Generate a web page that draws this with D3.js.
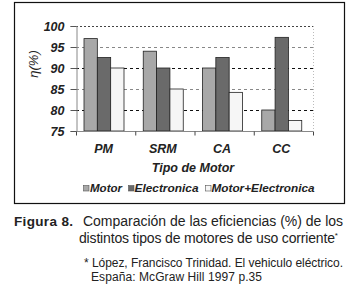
<!DOCTYPE html>
<html>
<head>
<meta charset="utf-8">
<script src="https://cdn.jsdelivr.net/npm/d3@7"></script>
<style>
  body { margin: 0; background: #fff; }
  svg { display: block; font-family: "Liberation Sans", Arial, sans-serif; }
</style>
</head>
<body>
<div id="container"></div>
<script>
// data
let categories = ["PM", "SRM", "CA", "CC"];
let seriesNames = ["Motor", "Electronica", "Motor+Electronica"];
let motor = [97, 94, 90, 80];
let electronica = [92.5, 90, 92.5, 97.3];
let motorElectronica = [90, 85, 84.2, 77.5];
let yTicks = [75, 80, 85, 90, 95, 100];

let colors = ["#a8a8a8", "#6a6a6a", "#f6f6f6"];

let w = 352;
let h = 293;

let viz = d3.select("#container")
  .append("svg")
    .attr("width", w)
    .attr("height", h)
;

// frame around the chart
viz.append("rect")
  .attr("x", 14.5).attr("y", 2.5)
  .attr("width", 330).attr("height", 201)
  .attr("fill", "none")
  .attr("stroke", "#111")
  .attr("stroke-width", 1.2);

// plot area edges (window.top is taken, so prefixed names)
let plotLeft = 76, plotRight = 313, plotTop = 26, plotBottom = 131;

let xScale = d3.scaleBand()
  .domain(categories)
  .range([plotLeft, plotRight]);

let inner = d3.scaleBand()
  .domain(seriesNames)
  .range([8, 48])
  .padding(0);

let yScale = d3.scaleLinear().domain([75, 100]).range([plotBottom, plotTop]);

// grid lines
let grid = viz.append("g").classed("grid", true);
grid.selectAll("line")
  .data(yTicks.filter(d => d > 75))
  .enter()
  .append("line")
    .attr("x1", plotLeft).attr("x2", plotRight)
    .attr("y1", d => yScale(d) + 0.5).attr("y2", d => yScale(d) + 0.5)
    .attr("stroke", d => (d == 90 || d == 80) ? "#111" : (d == 100 ? "#444" : "#888"))
    .attr("stroke-width", 1)
    .attr("stroke-dasharray", d => d == 100 ? "2,2" : "3,3");

// right edge, dotted
viz.append("line")
  .attr("x1", plotRight + 0.5).attr("x2", plotRight + 0.5)
  .attr("y1", plotTop).attr("y2", plotBottom)
  .attr("stroke", "#bbb")
  .attr("stroke-dasharray", "1,2");

// bars
let series = [motor, electronica, motorElectronica];
let barData = [];
categories.forEach(function(c, i){
  seriesNames.forEach(function(s, j){
    barData.push({cat: c, s: s, j: j, value: series[j][i]});
  });
});

viz.append("g").classed("bars", true)
  .selectAll("rect")
  .data(barData)
  .enter()
  .append("rect")
    .attr("x", d => xScale(d.cat) + inner(d.s))
    .attr("width", inner.bandwidth())
    .attr("y", d => yScale(d.value))
    .attr("height", d => plotBottom - yScale(d.value))
    .attr("fill", d => colors[d.j])
    .attr("stroke", "#222")
    .attr("stroke-width", 0.8);

// y axis
let yAxis = d3.axisLeft(yScale).tickValues(yTicks).tickSize(6).tickPadding(6);
let yAxisGroup = viz.append("g")
  .attr("transform", "translate(" + (plotLeft + 0.5) + ",0)")
  .call(yAxis);
yAxisGroup.select(".domain").attr("stroke", "#888");
yAxisGroup.selectAll("line").attr("stroke", "#555");
yAxisGroup.selectAll("text")
  .attr("font-size", 12.5)
  .attr("font-weight", "bold")
  .attr("font-style", "italic")
  .attr("fill", "#222")
  .attr("font-family", "Liberation Sans, Arial, sans-serif");

// x axis: ticks at the category edges
let xAxisGroup = viz.append("g")
  .attr("transform", "translate(0," + (plotBottom + 0.5) + ")");
xAxisGroup.append("line")
  .attr("x1", plotLeft).attr("x2", plotRight)
  .attr("stroke", "#888");
xAxisGroup.selectAll(".edge")
  .data(categories.concat(["end"]))
  .enter()
  .append("line")
    .attr("x1", (d, i) => plotLeft + i * xScale.bandwidth() + 0.5)
    .attr("x2", (d, i) => plotLeft + i * xScale.bandwidth() + 0.5)
    .attr("y1", 0).attr("y2", 4)
    .attr("stroke", "#444");

xAxisGroup.selectAll(".cat")
  .data(categories)
  .enter()
  .append("text")
    .attr("x", d => xScale(d) + xScale.bandwidth() / 2 - 2)
    .attr("y", 21)
    .attr("text-anchor", "middle")
    .attr("font-size", 12.5)
    .attr("font-weight", "bold")
    .attr("font-style", "italic")
    .attr("fill", "#222")
    .text(d => d);

// axis titles
viz.append("text")
  .attr("x", 193).attr("y", 172)
  .attr("text-anchor", "middle")
  .attr("font-size", 12.5)
  .attr("font-weight", "bold")
  .attr("font-style", "italic")
  .attr("fill", "#222")
  .text("Tipo de Motor");

viz.append("text")
  .attr("transform", "translate(38,64) rotate(-90)")
  .attr("text-anchor", "middle")
  .attr("font-size", 13)
  .attr("font-style", "italic")
  .attr("fill", "#222")
  .text("η(%)");

// legend
let legendX = [83, 128, 205];
let legendLen = [32, 64, 103];
let legend = viz.append("g").classed("legend", true);
let items = legend.selectAll("g")
  .data(seriesNames)
  .enter()
  .append("g")
    .attr("transform", (d, i) => "translate(" + legendX[i] + ",184)");
items.append("rect")
  .attr("x", 0.5).attr("y", 1.5)
  .attr("width", 5.5).attr("height", 5.5)
  .attr("fill", (d, i) => colors[i])
  .attr("stroke", "#555")
  .attr("stroke-width", 0.6);
items.append("text")
  .attr("x", (d, i) => i == 0 ? 7 : 6.5)
  .attr("y", 7.5)
  .attr("font-size", 11)
  .attr("font-weight", "bold")
  .attr("font-style", "italic")
  .attr("fill", "#222")
  .attr("textLength", (d, i) => legendLen[i])
  .attr("lengthAdjust", "spacingAndGlyphs")
  .text(d => d);

// caption below the chart
let caption = viz.append("g").attr("fill", "#222");
caption.append("text")
  .attr("x", 14).attr("y", 226)
  .attr("font-size", 13.5)
  .attr("font-weight", "bold")
  .attr("textLength", 59)
  .text("Figura 8.");
caption.append("text")
  .attr("x", 83).attr("y", 226)
  .attr("font-size", 14)
  .attr("textLength", 260)
  .text("Comparación de las eficiencias (%) de los");
let line2 = caption.append("text")
  .attr("x", 79).attr("y", 243)
  .attr("font-size", 14);
line2.append("tspan")
  .attr("textLength", 256)
  .text("distintos tipos de motores de uso corriente");
line2.append("tspan").attr("font-size", 8).attr("dy", -5).text("*");

caption.append("text")
  .attr("x", 84).attr("y", 267)
  .attr("font-size", 12)
  .attr("textLength", 259)
  .text("* López, Francisco Trinidad. El vehiculo eléctrico.");
caption.append("text")
  .attr("x", 91).attr("y", 281)
  .attr("font-size", 12)
  .attr("textLength", 171)
  .text("España: McGraw Hill 1997 p.35");
</script>
</body>
</html>
